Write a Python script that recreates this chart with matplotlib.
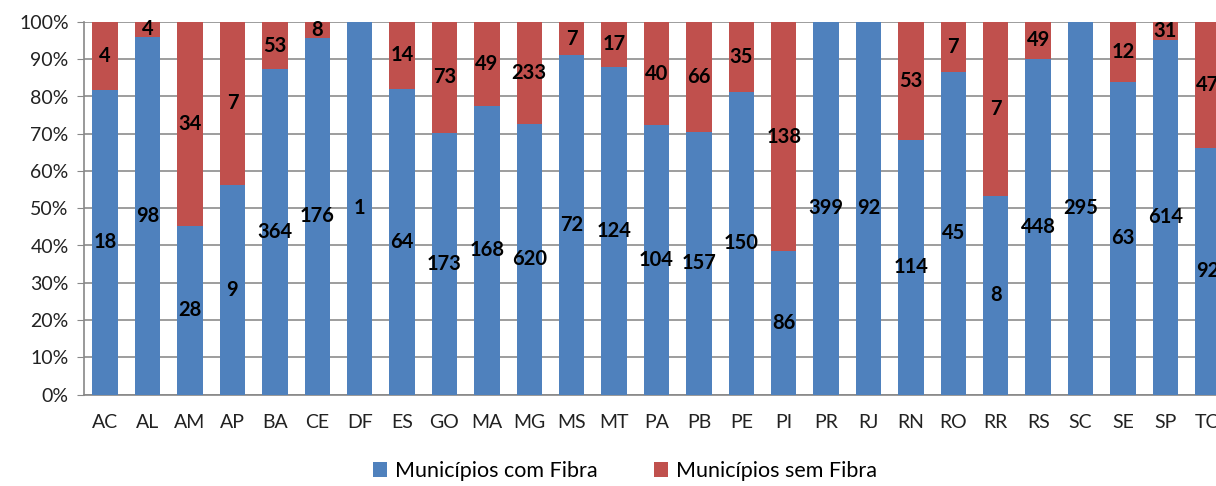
import matplotlib
matplotlib.use("Agg")
import matplotlib.pyplot as plt
import numpy as np

estados = ["AC", "AL", "AM", "AP", "BA", "CE", "DF", "ES", "GO", "MA", "MG", "MS", "MT", "PA",
           "PB", "PE", "PI", "PR", "RJ", "RN", "RO", "RR", "RS", "SC", "SE", "SP", "TO"]
com_fibra = [18, 98, 28, 9, 364, 176, 1, 64, 173, 168, 620, 72, 124, 104,
             157, 150, 86, 399, 92, 114, 45, 8, 448, 295, 63, 614, 92]
sem_fibra = [4, 4, 34, 7, 53, 8, 0, 14, 73, 49, 233, 7, 17, 40,
             66, 35, 138, 0, 0, 53, 7, 7, 49, 0, 12, 31, 47]

plt.rcParams["font.family"] = ["Lato", "DejaVu Sans"]

azul = "#4F81BD"
vermelho = "#C0504D"

com = np.array(com_fibra, dtype=float)
sem = np.array(sem_fibra, dtype=float)
total = com + sem
p_com = com / total * 100
p_sem = sem / total * 100

fig = plt.figure(figsize=(12.16, 4.86), dpi=100)
ax = fig.add_axes([84 / 1216, 1 - 394.5 / 486, 1145 / 1216, 372.5 / 486])

x = np.arange(len(estados))
w = 0.6
ax.bar(x, p_com, width=w, color=azul, label="Municípios com Fibra", zorder=3)
ax.bar(x, p_sem, width=w, bottom=p_com, color=vermelho, label="Municípios sem Fibra", zorder=3)

for i in range(len(estados)):
    if com[i] > 0:
        ax.text(x[i], p_com[i] / 2, f"{int(com[i])}", ha="center", va="center",
                fontsize=14.5, fontweight="bold", color="black", zorder=4)
    if sem[i] > 0:
        ax.text(x[i], p_com[i] + p_sem[i] / 2, f"{int(sem[i])}", ha="center", va="center",
                fontsize=14.5, fontweight="bold", color="black", zorder=4)

ax.set_xlim(-0.5, len(estados) - 0.5)
ax.set_ylim(0, 100)
ax.set_yticks(np.arange(0, 101, 10))
ax.set_yticklabels([f"{v}%" for v in range(0, 101, 10)], fontsize=14, color="#222222")
ax.set_xticks(x)
ax.set_xticklabels(estados, fontsize=14, color="#222222")
ax.tick_params(axis="x", length=0, pad=14)
ax.tick_params(axis="y", length=5, color="#888888", pad=6)

ax.grid(axis="y", color="#8c8c8c", linewidth=1.2, zorder=0)
for s in ["top", "right"]:
    ax.spines[s].set_visible(False)
for s in ["left", "bottom"]:
    ax.spines[s].set_color("#888888")
    ax.spines[s].set_linewidth(1.2)

fig.legend(loc="lower center", bbox_to_anchor=(0.514, -0.03), ncol=2, frameon=False,
           fontsize=15.5, handlelength=0.65, handleheight=0.65, handletextpad=0.4,
           columnspacing=2.6)

fig.savefig("out.png", dpi=100)
